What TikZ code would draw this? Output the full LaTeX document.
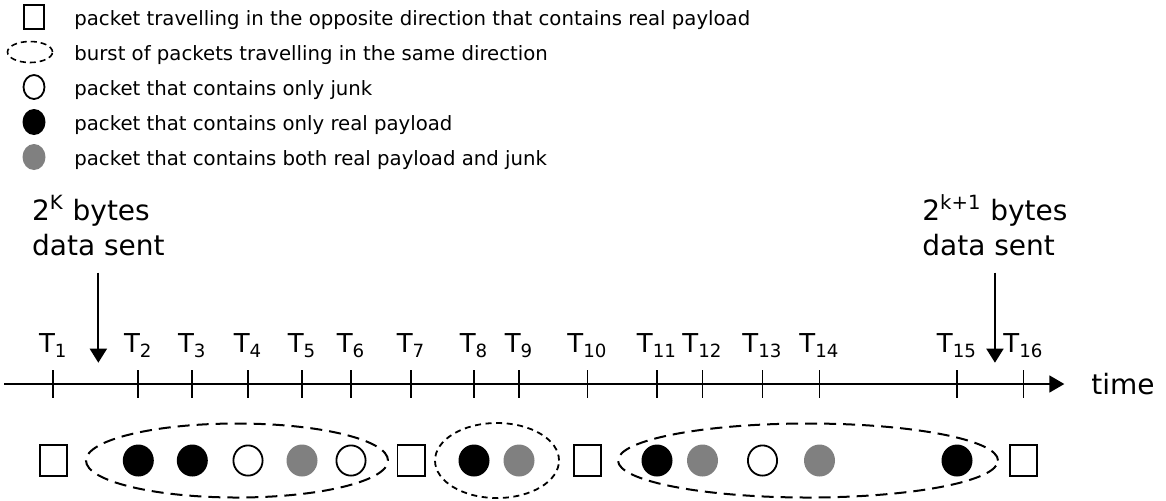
\documentclass[tikz,border=0pt]{standalone}
\usepackage{fontspec}
\setmainfont{DejaVu Sans}
\usetikzlibrary{arrows.meta,shapes.geometric,positioning}

\begin{document}
\begin{tikzpicture}[x=0.5pt,y=-0.5pt,
    opp/.style={draw,line width=0.9pt,rectangle,minimum width=13.6pt,minimum height=15.2pt,inner sep=0pt},
    junk/.style={draw,line width=0.9pt,ellipse,minimum width=14.6pt,minimum height=15.1pt,inner sep=0pt},
    real/.style={fill=black,ellipse,minimum width=15.5pt,minimum height=16pt,inner sep=0pt},
    mixed/.style={fill=black!50,ellipse,minimum width=15.5pt,minimum height=16pt,inner sep=0pt},
    burst/.style={draw,line width=1pt,ellipse,dash pattern=on 6pt off 3.5pt,inner sep=0pt},
    smallburst/.style={draw,line width=0.9pt,ellipse,dash pattern=on 3pt off 2.3pt,inner sep=0pt},
    lgd/.style={anchor=base west,inner sep=0pt,font=\fontsize{9.85}{12}\selectfont},
    big/.style={anchor=south west,inner sep=0pt,align=left,font=\fontsize{14}{17.5}\selectfont},
    tlabel/.style={anchor=base,inner sep=0pt,font=\fontsize{13}{15}\selectfont},
    dn/.style={line width=0.9pt,-{Triangle[width=8.5pt,length=7pt]}}]
    \useasboundingbox (0,0) rectangle (1166,500);
    % legend
    \node[opp,minimum width=10pt,minimum height=12pt] (lopp) at (34,17) {};
    \node[lgd] (topp) at (74,25) {packet travelling in the opposite direction that contains real payload};
    \node[smallburst,line width=0.8pt,dash pattern=on 3pt off 2pt,minimum width=22.5pt,minimum height=10.5pt] (lburst) at (30,52) {};
    \node[lgd] (tburst) at (74,60) {burst of packets travelling in the same direction};
    \node[junk,minimum width=10.5pt,minimum height=12pt] (ljunk) at (34,87) {};
    \node[lgd] (tjunk) at (74,95) {packet that contains only junk};
    \node[real,minimum width=11.5pt,minimum height=13pt] (lreal) at (34,122) {};
    \node[lgd] (treal) at (74,130) {packet that contains only real payload};
    \node[mixed,minimum width=11.5pt,minimum height=13pt] (lmixed) at (34,157) {};
    \node[lgd] (tmixed) at (74,165) {packet that contains both real payload and junk};
    % data sent marks
    \node[big] (sentK) at (31.7,256) {2\textsuperscript{K} bytes\\data sent};
    \node[big] (sentKK) at (922,256) {2\textsuperscript{k+1} bytes\\data sent};
    \coordinate (marklvl) at (0,362.7);
    \draw[dn,shorten <=8.3pt] (sentK.south) -- (sentK.south |- marklvl);
    \draw[dn,shorten <=8.3pt] (sentKK.south) -- (sentKK.south |- marklvl);
    % time axis
    \coordinate (axstart) at (4,384);
    \coordinate (axend) at (1064.3,384);
    \draw[line width=0.9pt,-{Triangle[width=8.5pt,length=7.5pt]}] (axstart) -- (axend);
    \node[right=10pt of axend,font=\fontsize{14}{17}\selectfont] (time) {time};
    \foreach \x [count=\i] in {53.3,138.3,192.3,248,302,351,411,474,519,587.5,657,702.5,762.5,819.5,957,1023.5} {
        \coordinate (t\i) at (\x,384);
        \draw[line width=0.9pt] ([yshift=7pt]t\i) -- ([yshift=-7pt]t\i);
        \node[tlabel] (l\i) at (\x,352.7) {T\textsubscript{\i}};
    }
    % bursts
    \node[burst,minimum width=151pt,minimum height=37pt] (b1) at (237,460.5) {};
    \node[smallburst,minimum width=62pt,minimum height=37.5pt] (b2) at (497,460.5) {};
    \node[burst,minimum width=190pt,minimum height=37pt] (b3) at (808,460.5) {};
    % packets
    \foreach \s [count=\i] in {opp,real,real,junk,mixed,junk,opp,real,mixed,opp,real,mixed,junk,mixed,real,opp} {
        \node[\s] (p\i) at (t\i |- 0,460.5) {};
    }
\end{tikzpicture}
\end{document}
